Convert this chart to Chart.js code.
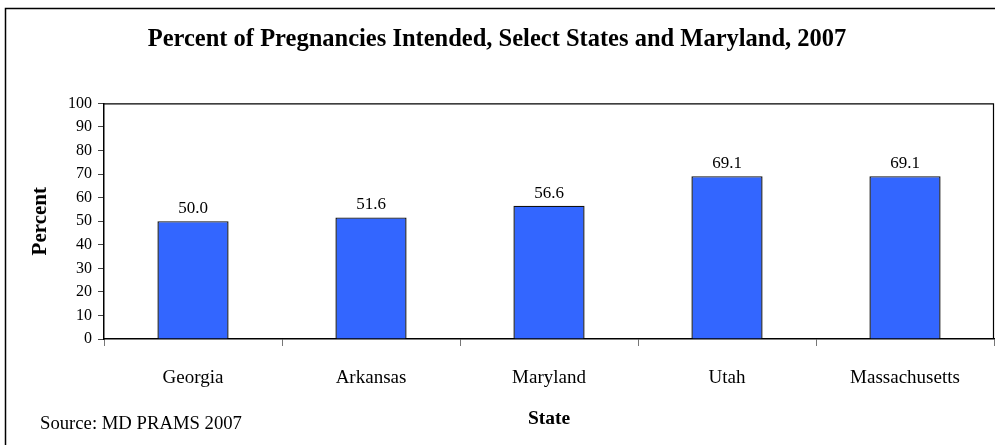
<!DOCTYPE html>
<html>
<head>
<meta charset="utf-8">
<script src="https://cdn.jsdelivr.net/npm/chart.js@4"></script>
<style>
  body { margin: 0; background: #fff; overflow: hidden; }
  #wrap { width: 995px; height: 445px; position: relative; }
</style>
</head>
<body>
<div id="wrap"><canvas id="grafico"></canvas></div>
<script>
let estados = ['Georgia', 'Arkansas', 'Maryland', 'Utah', 'Massachusetts'];
let percentuais = [50.0, 51.6, 56.6, 69.1, 69.1];
let ticksY = [0, 10, 20, 30, 40, 50, 60, 70, 80, 90, 100];
let fonte = "'Liberation Serif', 'Times New Roman', serif";

// moldura externa, moldura da area do grafico, rotulos e fonte dos dados
const extras = {
    id: 'extras',
    beforeDraw(chart) {
        const c = chart.ctx;
        c.save();
        c.fillStyle = '#fff';
        c.fillRect(0, 0, chart.width, chart.height);
        c.strokeStyle = '#000';
        c.lineWidth = 1.5;
        c.strokeRect(5.5, 8.5, 1200, 800);
        c.restore();
    },
    afterDatasetsDraw(chart) {
        const c = chart.ctx;
        const a = chart.chartArea;
        c.save();
        c.strokeStyle = '#000';
        c.lineWidth = 1.2;
        c.beginPath();
        c.moveTo(a.left, a.top + 0.5);
        c.lineTo(a.right - 0.5, a.top + 0.5);
        c.lineTo(a.right - 0.5, a.bottom);
        c.stroke();

        c.fillStyle = '#000';
        c.font = '17px ' + fonte;
        c.textAlign = 'center';
        c.textBaseline = 'bottom';
        chart.getDatasetMeta(0).data.forEach(function (bar, i) {
            c.fillText(percentuais[i].toFixed(1), bar.x, bar.y - 4);
        });

        c.textAlign = 'left';
        c.textBaseline = 'middle';
        c.font = '18.7px ' + fonte;
        c.fillText('Source: MD PRAMS 2007', 40, 424);
        c.restore();
    }
};

var ctx = document.getElementById('grafico').getContext('2d');
var meuGrafico = new Chart(ctx, {
    type: 'bar',
    data: {
        labels: estados,
        datasets: [{
            label: 'Percent',
            data: percentuais,
            backgroundColor: '#3366FF',
            borderColor: '#111',
            borderWidth: 1.4,
            barPercentage: 0.4,
            categoryPercentage: 1
        }]
    },
    options: {
        responsive: true,
        maintainAspectRatio: false,
        animation: false,
        layout: { padding: { left: 0, right: 1, top: 0, bottom: 14 } },
        plugins: {
            legend: { display: false },
            tooltip: { enabled: false },
            title: {
                display: true,
                text: 'Percent of Pregnancies Intended, Select States and Maryland, 2007',
                color: '#000',
                font: { family: fonte, size: 24.5, weight: 'bold' },
                padding: { top: 25, bottom: 49 }
            }
        },
        scales: {
            x: {
                offset: true,
                grid: {
                    offset: true,
                    drawOnChartArea: false,
                    drawTicks: true,
                    tickLength: 7,
                    tickColor: '#777'
                },
                border: { display: true, color: '#000', width: 1.5 },
                ticks: {
                    color: '#000',
                    font: { family: fonte, size: 19 },
                    padding: 21,
                    maxRotation: 0
                },
                title: {
                    display: true,
                    text: 'State',
                    color: '#000',
                    font: { family: fonte, size: 19.5, weight: 'bold' },
                    padding: { top: 0, bottom: 0 }
                },
                afterFit: function (scale) { scale.height = 92; }
            },
            y: {
                min: 0,
                max: 100,
                afterBuildTicks: function (scale) {
                    scale.ticks = ticksY.map(function (v) { return { value: v }; });
                },
                grid: {
                    drawOnChartArea: false,
                    drawTicks: true,
                    tickLength: 6,
                    tickColor: '#444'
                },
                border: { display: true, color: '#000', width: 1.5 },
                ticks: {
                    color: '#000',
                    font: { family: fonte, size: 16 },
                    padding: 6
                },
                title: {
                    display: true,
                    text: 'Percent',
                    color: '#000',
                    font: { family: fonte, size: 21, weight: 'bold' },
                    padding: { top: 28, bottom: 0 }
                },
                afterFit: function (scale) { scale.width = 104; }
            }
        }
    },
    plugins: [extras]
});
</script>
</body>
</html>
